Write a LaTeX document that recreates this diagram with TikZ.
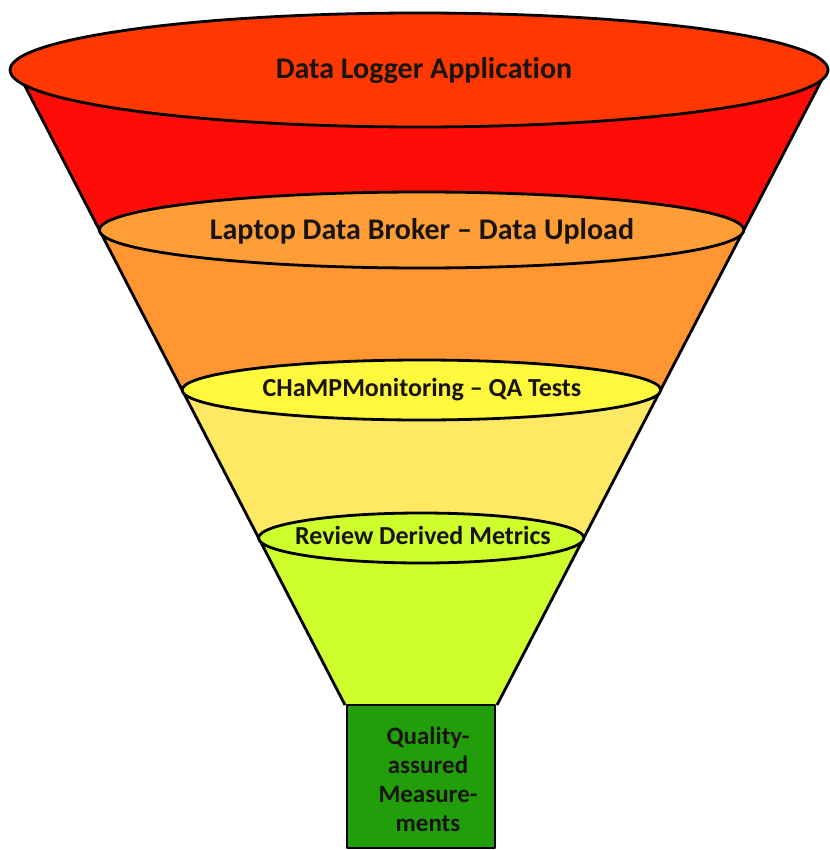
\documentclass[tikz,border=0pt]{standalone}
\usepackage{fontspec}
\setmainfont{Carlito}[Ligatures={NoCommon}]
\usetikzlibrary{calc}
\definecolor{topell}{RGB}{255,55,0}
\definecolor{band1}{RGB}{255,12,8}
\definecolor{ell2}{RGB}{255,158,55}
\definecolor{band2}{RGB}{255,150,50}
\definecolor{ell3}{RGB}{255,248,60}
\definecolor{band3}{RGB}{255,232,100}
\definecolor{band4}{RGB}{206,255,45}
\definecolor{boxgreen}{RGB}{34,158,10}
\definecolor{txt}{RGB}{25,20,15}
\tikzset{
  outline/.style={draw=black, line width=2.8pt, line join=round},
  biglbl/.style={font=\bfseries\fontsize{30}{36}\selectfont, text=txt, inner sep=0pt},
  midlbl/.style={font=\bfseries\fontsize{26}{31}\selectfont, text=txt, inner sep=0pt},
  boxlbl/.style={font=\bfseries\fontsize{25}{29}\selectfont, text=txt, inner sep=0pt, align=center}
}
\begin{document}
\begin{tikzpicture}[x=1pt,y=-1pt]
\useasboundingbox (0,0) rectangle (829,850);
% cone corners
\coordinate (L0) at (24.4,85);
\coordinate (R0) at (821.7,80);
\coordinate (BL) at (345,705);
\coordinate (BR) at (497,705);
% bands
\fill[band1] (10,70) -- (L0) -- (BL) -- (BR) -- (R0) -- (828,70) -- cycle;
\fill[band2] (99.4,230) -- (BL) -- (BR) -- (743.8,230) -- cycle;
\fill[band3] (182.1,390) -- (BL) -- (BR) -- (660.7,390) -- cycle;
\fill[band4] (258.6,538) -- (BL) -- (BR) -- (583.8,538) -- cycle;
% sides
\draw[outline] (L0) -- (BL);
\draw[outline] (R0) -- (BR);
% ellipses
\draw[outline, fill=topell] (419,70) ellipse [x radius=409pt, y radius=57pt];
\draw[outline, fill=ell2] (421.6,230) ellipse [x radius=322.2pt, y radius=38pt];
\draw[outline, fill=ell3] (421.4,390) ellipse [x radius=239.3pt, y radius=30pt];
\draw[outline, fill=band4] (421.2,538) ellipse [x radius=162.6pt, y radius=25pt];
% labels
\node[biglbl] (logger) at (424,71) {Data Logger Application};
\node[biglbl] (broker) at (422,231) {Laptop Data Broker – Data Upload};
\node[midlbl] (champ) at (422,390) {CHaMPMonitoring – QA Tests};
\node[midlbl] (review) at (423,535) {Review Derived Metrics};
% output box
\node[outline, fill=boxgreen, minimum width=148pt, minimum height=143pt, inner sep=0pt] (qa) at (421,776.5) {};
\node[boxlbl] (qalabel) at (428,779) {Quality-\\assured\\Measure-\\ments};
\end{tikzpicture}
\end{document}
